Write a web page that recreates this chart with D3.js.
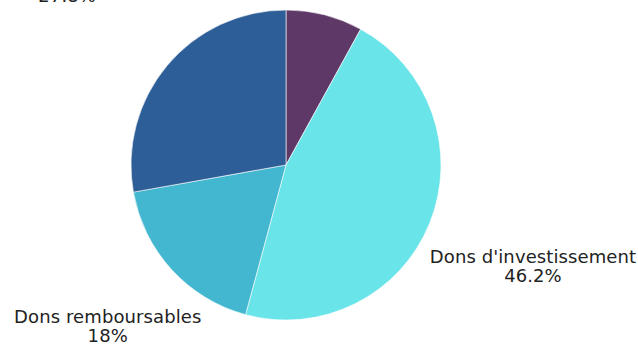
<!DOCTYPE html>
<html>
<head>
<meta charset="utf-8">
<script src="https://cdn.jsdelivr.net/npm/d3@7"></script>
<style>
  html, body { margin: 0; padding: 0; background: #fff; }
  svg { display: block; }
  text { font-family: "DejaVu Sans", sans-serif; fill: #222; }
</style>
</head>
<body>
<svg id="chart" width="638" height="346"></svg>
<script>
// Répartition des dons par type (%)
const categories = ["Autres", "Dons d'investissement", "Dons remboursables", "Dons de fonctionnement"];
const values = [8.0, 46.2, 18.0, 27.8];
const colors = ["#5e3866", "#69e4e8", "#43b7cf", "#2e5e97"];
const showLabel = [false, true, true, true];

const width = 638, height = 346;
const cx = 286, cy = 165, radius = 155;
const labelRadius = 262;
// small per-label nudges so the text blocks clear the pie
const labelNudge = {
  "Dons d'investissement": [4, 0],
  "Dons remboursables": [15, -19],
  "Dons de fonctionnement": [-18, -14]
};

const svg = d3.select("#chart");
const g = svg.append("g").attr("transform", `translate(${cx},${cy})`);

const data = categories.map((c, i) => ({ name: c, value: values[i], color: colors[i], label: showLabel[i] }));

const pie = d3.pie().value(d => d.value).sort(null);
const arc = d3.arc().innerRadius(0).outerRadius(radius);
const labelArc = d3.arc().innerRadius(labelRadius).outerRadius(labelRadius);

const arcs = pie(data);

g.selectAll("path.slice")
  .data(arcs)
  .join("path")
  .attr("class", "slice")
  .attr("d", arc)
  .attr("fill", d => d.data.color)
  .attr("stroke", "#ffffff")
  .attr("stroke-width", 0.6);

const fmt = v => (Math.round(v * 10) / 10).toString() + "%";

const labels = g.selectAll("g.label")
  .data(arcs.filter(d => d.data.label))
  .join("g")
  .attr("class", "label")
  .attr("transform", d => {
    const [x, y] = labelArc.centroid(d);
    const [nx, ny] = labelNudge[d.data.name] || [0, 0];
    return `translate(${x + nx},${y + ny})`;
  });

labels.append("text")
  .attr("text-anchor", "middle")
  .attr("y", 0)
  .attr("font-size", 18)
  .attr("letter-spacing", 0.1)
  .text(d => d.data.name);

labels.append("text")
  .attr("text-anchor", "middle")
  .attr("y", 19)
  .attr("font-size", 18)
  .attr("letter-spacing", 0.1)
  .text(d => fmt(d.data.value));
</script>
</body>
</html>
